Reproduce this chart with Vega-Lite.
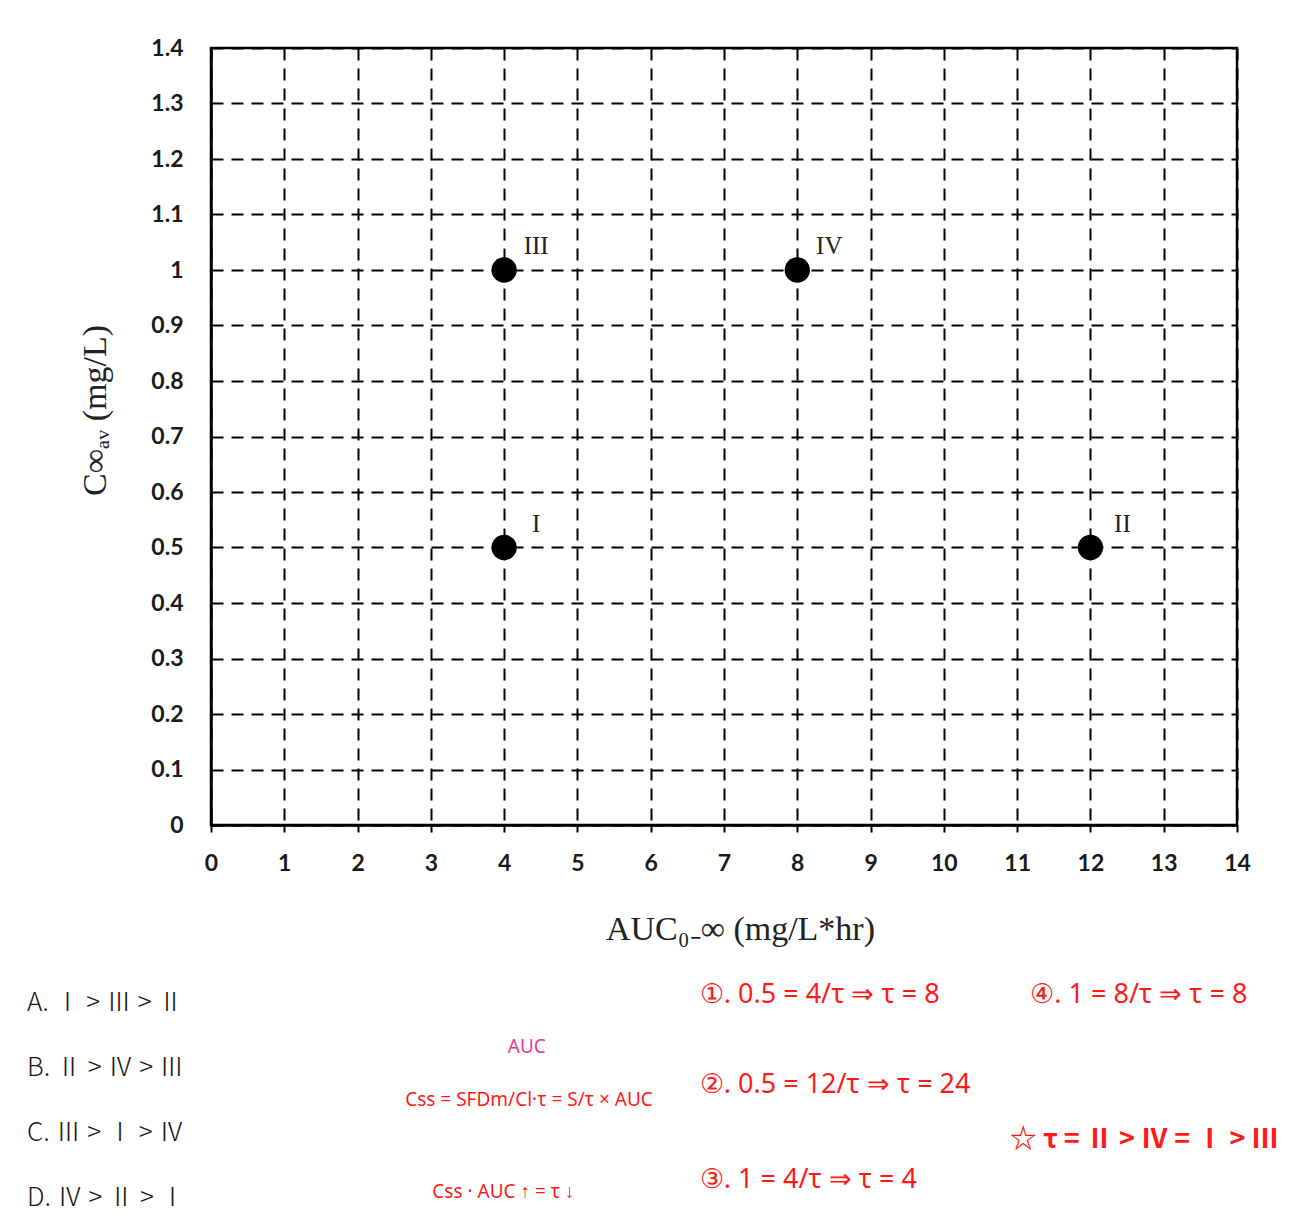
{
  "$schema": "https://vega.github.io/schema/vega-lite/v6.json",
  "autosize": "none",
  "width": 1026,
  "height": 777,
  "padding": {"left": 211, "top": 48, "right": 75, "bottom": 401},
  "background": "white",
  "config": {
    "view": {"stroke": "black", "strokeWidth": 2.5},
    "axis": {
      "grid": true,
      "gridColor": "black",
      "gridDash": [12, 8],
      "gridWidth": 2,
      "gridOpacity": 1,
      "domainColor": "black",
      "domainWidth": 2.5,
      "labelFont": "Lato",
      "labelFontWeight": "bold",
      "labelFontSize": 23,
      "labelColor": "#1a1a1a",
      "labelFlush": false,
      "labelOverlap": false,
      "format": "~g",
      "titleFont": "Liberation Serif",
      "titleFontWeight": "normal",
      "titleFontSize": 34,
      "titleColor": "#222222"
    }
  },
  "datasets": {
    "points": [
      {"auc": 4, "cav": 0.5, "label": "I"},
      {"auc": 12, "cav": 0.5, "label": "II"},
      {"auc": 4, "cav": 1.0, "label": "III"},
      {"auc": 8, "cav": 1.0, "label": "IV"}
    ],
    "options": [
      {"x": -2.51, "y": -0.321, "text": "A. Ⅰ > Ⅲ > Ⅱ"},
      {"x": -2.51, "y": -0.438, "text": "B. Ⅱ > Ⅳ > Ⅲ"},
      {"x": -2.51, "y": -0.555, "text": "C. Ⅲ > Ⅰ > Ⅳ"},
      {"x": -2.51, "y": -0.672, "text": "D. Ⅳ > Ⅱ > Ⅰ"}
    ],
    "notes": [
      {"x": 6.67, "y": -0.306, "text": "①. 0.5 = 4/τ ⇒ τ = 8", "kind": "red"},
      {"x": 11.18, "y": -0.306, "text": "④. 1 = 8/τ ⇒ τ = 8", "kind": "red"},
      {"x": 6.67, "y": -0.468, "text": "②. 0.5 = 12/τ ⇒ τ = 24", "kind": "red"},
      {"x": 6.67, "y": -0.640, "text": "③. 1 = 4/τ ⇒ τ = 4", "kind": "red"}
    ],
    "formula": [
      {"x": 2.65, "y": -0.495, "text": "Css = SFDm/Cl·τ = S/τ × AUC", "kind": "red"},
      {"x": 3.02, "y": -0.661, "text": "Css · AUC ↑ = τ ↓", "kind": "red"},
      {"x": 4.05, "y": -0.40, "text": "AUC", "kind": "magenta"}
    ],
    "star": [
      {"x": 10.9, "y": -0.568, "text": "☆ τ = Ⅱ > Ⅳ = Ⅰ > Ⅲ"}
    ]
  },
  "layer": [
    {
      "data": {"name": "points"},
      "mark": {"type": "point", "filled": true, "color": "black", "size": 640, "opacity": 1},
      "encoding": {
        "x": {
          "field": "auc", "type": "quantitative",
          "scale": {"domain": [0, 14], "nice": false, "zero": false},
          "axis": {
            "values": [0,1,2,3,4,5,6,7,8,9,10,11,12,13,14],
            "tickSize": 7, "tickColor": "black", "tickWidth": 2,
            "labelPadding": 20,
            "title": "AUC₀₋∞ (mg/L*hr)",
            "titleX": 529, "titleY": 104, "titleBaseline": "middle", "titleAlign": "center"
          }
        },
        "y": {
          "field": "cav", "type": "quantitative",
          "scale": {"domain": [0, 1.4], "nice": false, "zero": false},
          "axis": {
            "values": [0,0.1,0.2,0.3,0.4,0.5,0.6,0.7,0.8,0.9,1,1.1,1.2,1.3,1.4],
            "ticks": false,
            "labelPadding": 28,
            "title": "C∞ₐᵥ (mg/L)",
            "titleX": -116, "titleY": 362, "titleBaseline": "middle", "titleAlign": "center", "titleAngle": -90
          }
        }
      }
    },
    {
      "data": {"name": "points"},
      "mark": {"type": "text", "font": "Liberation Serif", "fontSize": 25, "color": "#222222", "dx": 32, "dy": -24},
      "encoding": {
        "x": {"field": "auc", "type": "quantitative"},
        "y": {"field": "cav", "type": "quantitative"},
        "text": {"field": "label"}
      }
    },
    {
      "data": {"name": "options"},
      "mark": {"type": "text", "align": "left", "baseline": "middle", "font": "Noto Sans CJK SC", "fontWeight": 300, "fontSize": 26, "color": "#1a1a1a"},
      "encoding": {
        "x": {"field": "x", "type": "quantitative"},
        "y": {"field": "y", "type": "quantitative"},
        "text": {"field": "text"}
      }
    },
    {
      "data": {"name": "notes"},
      "mark": {"type": "text", "align": "left", "baseline": "middle", "font": "Noto Sans", "fontSize": 27, "color": "#ff1a1a"},
      "encoding": {
        "x": {"field": "x", "type": "quantitative"},
        "y": {"field": "y", "type": "quantitative"},
        "text": {"field": "text"}
      }
    },
    {
      "data": {"name": "formula"},
      "mark": {"type": "text", "align": "left", "baseline": "middle", "font": "Noto Sans", "fontSize": 19},
      "encoding": {
        "x": {"field": "x", "type": "quantitative"},
        "y": {"field": "y", "type": "quantitative"},
        "text": {"field": "text"},
        "color": {"field": "kind", "type": "nominal", "scale": {"domain": ["red", "magenta"], "range": ["#ff1a1a", "#f0359a"]}, "legend": null}
      }
    },
    {
      "data": {"name": "star"},
      "mark": {"type": "text", "align": "left", "baseline": "middle", "font": "Noto Sans CJK SC", "fontWeight": "bold", "fontSize": 27, "color": "#ff1a1a"},
      "encoding": {
        "x": {"field": "x", "type": "quantitative"},
        "y": {"field": "y", "type": "quantitative"},
        "text": {"field": "text"}
      }
    }
  ]
}
